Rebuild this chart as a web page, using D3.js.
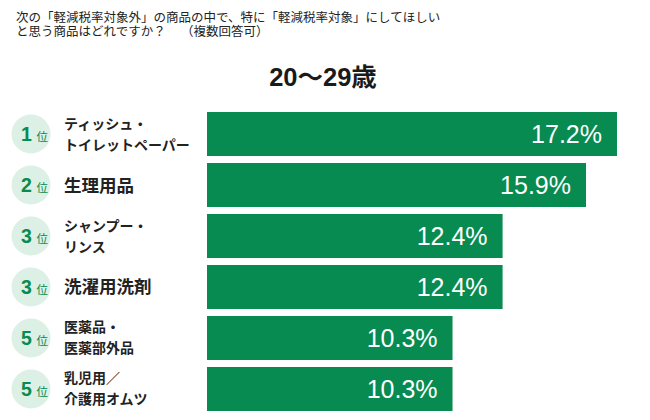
<!DOCTYPE html>
<html><head><meta charset="utf-8">
<script src="https://cdn.jsdelivr.net/npm/d3@7"></script>
<style>body{margin:0;background:#fff;} svg{display:block;}</style>
</head><body>
<svg id="c" width="650" height="420"></svg>
<script>
const questionLines = ["次の「軽減税率対象外」の商品の中で、特に「軽減税率対象」にしてほしい", "と思う商品はどれですか？　 （複数回答可）"];
const chartTitle = "20〜29歳";
const ranks = ["1", "2", "3", "3", "5", "5"];
const categories = [["ティッシュ・", "トイレットペーパー"], ["生理用品"], ["シャンプー・", "リンス"], ["洗濯用洗剤"], ["医薬品・", "医薬部外品"], ["乳児用／", "介護用オムツ"]];
const values = [17.2, 15.9, 12.4, 12.4, 10.3, 10.3];

const svg = d3.select("#c");
const font = "'Noto Sans CJK JP', 'Noto Sans', sans-serif";
const green = "#078b50";

const x = d3.scaleLinear().domain([0, 17.2]).range([207, 617]);
const y = d3.scaleBand().domain(d3.range(values.length)).range([112, 411]).paddingInner(0.137).paddingOuter(0);

svg.append("g").selectAll("text").data(questionLines).join("text")
  .attr("x", 16).attr("y", (d, i) => 21.5 + i * 14)
  .attr("font-family", font).attr("font-size", 12.5).attr("fill", "#222")
  .text(d => d);

svg.append("text").attr("x", 323).attr("y", 86).attr("text-anchor", "middle")
  .attr("font-family", "'Liberation Sans', 'Noto Sans CJK JP', sans-serif").attr("font-weight", "bold")
  .attr("font-size", 25.5).attr("fill", "#1a1a1a").text(chartTitle);

const rows = svg.append("g").selectAll("g").data(values).join("g");

rows.append("rect")
  .attr("x", x(0)).attr("y", (d, i) => y(i))
  .attr("width", d => x(d) - x(0)).attr("height", y.bandwidth())
  .attr("fill", green);

rows.append("text")
  .attr("x", d => x(d) - 15).attr("y", (d, i) => y(i) + y.bandwidth() / 2 + 9)
  .attr("text-anchor", "end").attr("fill", "#fff")
  .attr("font-family", "'Liberation Sans', Arial, sans-serif").attr("font-size", 25)
  .text(d => d.toFixed(1) + "%");

rows.append("circle")
  .attr("cx", 31).attr("cy", (d, i) => y(i) + y.bandwidth() / 2)
  .attr("r", 19.5).attr("fill", "#dcf0e5");

const rk = rows.append("text")
  .attr("y", (d, i) => y(i) + y.bandwidth() / 2 + 7)
  .attr("fill", green).attr("font-family", "'Liberation Sans', Arial, sans-serif");
rk.append("tspan").attr("x", 21).attr("font-size", 19.5).attr("font-weight", "bold").text((d, i) => ranks[i]);
rk.append("tspan").attr("x", 36.5).attr("font-size", 11.5).attr("font-family", font).text("位");

rows.each(function(d, i) {
  const g = d3.select(this);
  const lines = categories[i];
  const cy = y(i) + y.bandwidth() / 2;
  if (lines.length === 1) {
    g.append("text").attr("x", 64).attr("y", cy + 6.5)
      .attr("font-family", font).attr("font-size", 17.5).attr("font-weight", "bold")
      .attr("fill", "#222").text(lines[0]);
  } else {
    g.selectAll("text.cat").data(lines).join("text").attr("class", "cat")
      .attr("x", 64).attr("y", (t, j) => cy - 10.5 + j * 21 + 5)
      .attr("font-family", font).attr("font-size", 14).attr("font-weight", "bold")
      .attr("fill", "#222").text(t => t);
  }
});
</script>
</body></html>
